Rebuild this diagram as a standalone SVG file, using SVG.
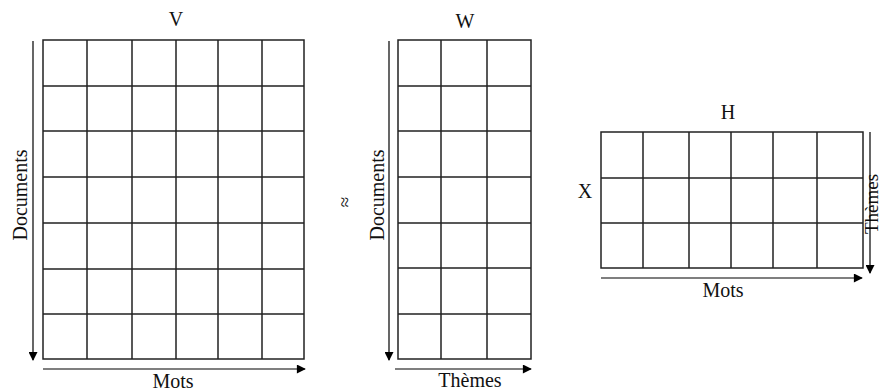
<svg xmlns="http://www.w3.org/2000/svg" width="883" height="391" viewBox="0 0 883 391">
  <style>
    .grid { fill: none; stroke: #222; stroke-width: 1.5; }
    .axis { fill: none; stroke: #000; stroke-width: 1.2; marker-end: url(#head); }
    text { font-family: "Liberation Serif", "Times New Roman", serif; font-size: 20px; fill: #111; }
    .mid { text-anchor: middle; }
  </style>
  <defs>
    <marker id="head" viewBox="0 0 10 10" refX="9" refY="5" markerWidth="11" markerHeight="9" markerUnits="userSpaceOnUse" orient="auto">
      <path d="M0,0 L10,5 L0,10 Z" fill="#000"/>
    </marker>
  </defs>

  <!-- V : documents x words -->
  <g id="matrix-v">
    <rect class="grid" x="43" y="40" width="261" height="319"/>
    <path class="grid" d="M87,40V359 M132,40V359 M176,40V359 M218,40V359 M262,40V359
                          M43,86H304 M43,131H304 M43,177H304 M43,223H304 M43,269H304 M43,314H304"/>
    <text class="mid" x="176" y="26">V</text>
    <text class="mid" x="173" y="388">Mots</text>
    <text class="mid" transform="translate(27,195) rotate(-90)">Documents</text>
  </g>

  <!-- approximately-equal sign -->
  <g id="approx">
    <text class="mid" transform="translate(351,202) rotate(-90)" style="font-size:19px">≈</text>
  </g>

  <!-- W : documents x topics -->
  <g id="matrix-w">
    <rect class="grid" x="398" y="40" width="133" height="319"/>
    <path class="grid" d="M441,40V359 M487,40V359
                          M398,86H531 M398,131H531 M398,177H531 M398,223H531 M398,268H531 M398,314H531"/>
    <text class="mid" x="465" y="28">W</text>
    <text class="mid" x="470" y="387">Thèmes</text>
    <text class="mid" transform="translate(384,195) rotate(-90)">Documents</text>
  </g>

  <!-- H : topics x words -->
  <g id="matrix-h">
    <rect class="grid" x="601" y="132" width="262" height="136"/>
    <path class="grid" d="M643,132V268 M689,132V268 M731,132V268 M773,132V268 M817,132V268
                          M601,178H863 M601,223H863"/>
    <text class="mid" x="728" y="119">H</text>
    <text class="mid" x="585" y="198">X</text>
    <text class="mid" x="723" y="297">Mots</text>
    <text class="mid" transform="translate(878,204) rotate(-90)" style="font-size:19px">Thèmes</text>
  </g>

  <!-- axis arrows -->
  <g id="connectors">
    <line class="axis" x1="33" y1="41" x2="33" y2="360"/>
    <line class="axis" x1="43" y1="369" x2="305" y2="369"/>
    <line class="axis" x1="389" y1="41" x2="389" y2="360"/>
    <line class="axis" x1="395" y1="369" x2="531" y2="369"/>
    <line class="axis" x1="870" y1="132" x2="870" y2="273"/>
    <line class="axis" x1="601" y1="278" x2="862" y2="278"/>
  </g>
</svg>
